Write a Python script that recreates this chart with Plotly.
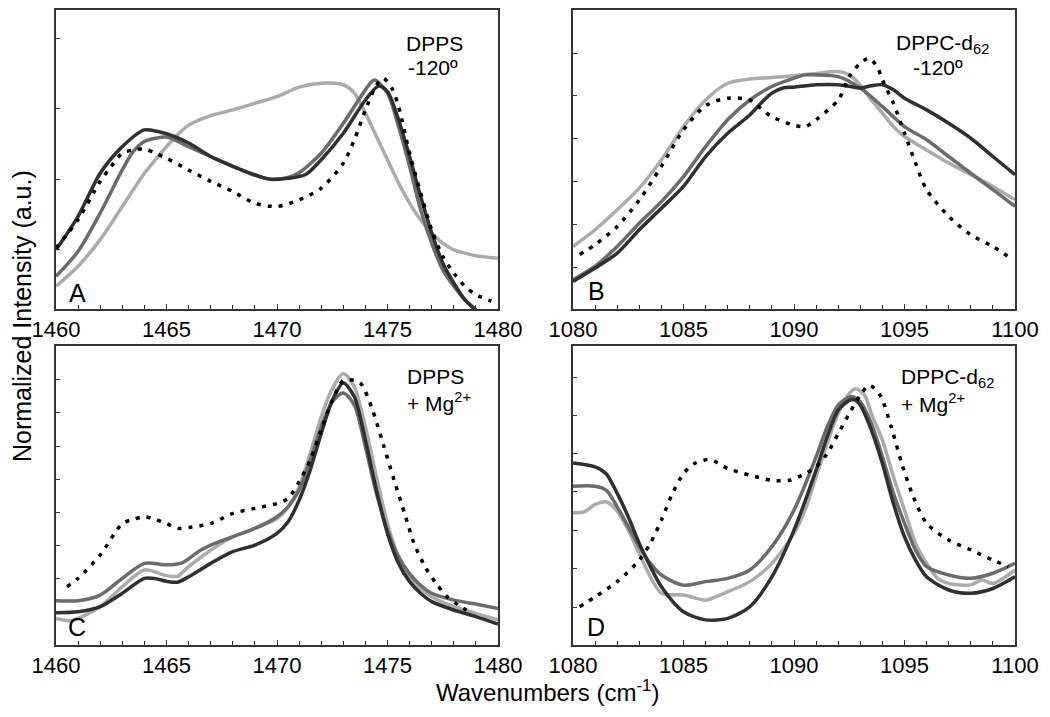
import plotly.graph_objects as go

# ---------------- Data (normalized intensity, 0 = panel bottom, 1 = panel top) ----------------
# Panel A: DPPS -120º, CH2 scissoring region
a_light_x = [1460, 1461, 1462, 1463, 1464, 1464.5, 1465, 1465.5, 1466, 1467, 1468, 1469, 1470, 1471, 1472, 1473, 1473.5, 1474, 1474.5, 1475, 1475.5, 1476, 1476.5, 1477, 1477.5, 1478, 1478.5, 1479, 1480]
a_light_y = [0.076, 0.143, 0.232, 0.343, 0.454, 0.50, 0.543, 0.583, 0.615, 0.647, 0.666, 0.688, 0.710, 0.742, 0.755, 0.750, 0.722, 0.655, 0.577, 0.499, 0.421, 0.354, 0.298, 0.254, 0.220, 0.198, 0.187, 0.178, 0.170]
a_med_x = [1460, 1461, 1462, 1463, 1463.5, 1464, 1464.5, 1465, 1466, 1467, 1468, 1469, 1469.7, 1470.5, 1471, 1472, 1473, 1474, 1474.4, 1475, 1475.5, 1476, 1476.5, 1477, 1477.5, 1478, 1478.5, 1479.1]
a_med_y = [0.109, 0.193, 0.321, 0.465, 0.527, 0.560, 0.571, 0.575, 0.543, 0.510, 0.477, 0.447, 0.434, 0.440, 0.456, 0.521, 0.621, 0.733, 0.766, 0.722, 0.610, 0.477, 0.332, 0.220, 0.131, 0.076, 0.031, -0.01]
a_dark_x = [1460, 1461, 1462, 1463, 1464, 1465, 1466, 1467, 1468, 1469, 1469.7, 1470.5, 1471.3, 1472, 1473, 1474, 1474.6, 1475, 1475.5, 1476, 1476.5, 1477, 1477.5, 1478, 1478.5, 1479.1]
a_dark_y = [0.198, 0.310, 0.454, 0.543, 0.599, 0.586, 0.555, 0.510, 0.477, 0.449, 0.434, 0.437, 0.450, 0.499, 0.588, 0.699, 0.746, 0.727, 0.633, 0.510, 0.376, 0.254, 0.154, 0.087, 0.031, -0.01]
a_dot_x = [1460, 1461, 1462, 1462.5, 1463, 1463.5, 1464, 1464.5, 1465, 1466, 1467, 1468, 1469, 1470, 1471, 1472, 1473, 1473.5, 1474, 1474.5, 1474.8, 1475.2, 1475.5, 1476, 1476.5, 1477, 1477.5, 1478, 1478.5, 1479, 1479.7]
a_dot_y = [0.204, 0.299, 0.427, 0.477, 0.521, 0.532, 0.535, 0.521, 0.504, 0.465, 0.427, 0.393, 0.354, 0.343, 0.365, 0.404, 0.488, 0.566, 0.666, 0.749, 0.772, 0.738, 0.677, 0.521, 0.388, 0.265, 0.176, 0.120, 0.076, 0.048, 0.026]

# Panel B: DPPC-d62 -120º, CD2 region
b_light_x = [1080, 1081, 1082, 1083, 1084, 1085, 1086, 1087, 1088, 1089, 1090, 1091, 1092, 1092.5, 1093, 1093.5, 1094, 1094.5, 1095, 1096, 1097, 1098, 1099, 1100]
b_light_y = [0.209, 0.265, 0.332, 0.404, 0.499, 0.610, 0.699, 0.755, 0.769, 0.774, 0.780, 0.788, 0.794, 0.783, 0.749, 0.699, 0.655, 0.610, 0.577, 0.532, 0.488, 0.449, 0.410, 0.365]
b_med_x = [1080, 1081, 1082, 1083, 1084, 1085, 1086, 1087, 1088, 1089, 1090, 1090.5, 1091, 1092, 1093, 1094, 1095, 1096, 1097, 1098, 1099, 1100]
b_med_y = [0.098, 0.143, 0.209, 0.287, 0.359, 0.443, 0.543, 0.633, 0.699, 0.744, 0.772, 0.783, 0.783, 0.777, 0.739, 0.677, 0.610, 0.566, 0.510, 0.454, 0.399, 0.343]
b_dark_x = [1080, 1081, 1082, 1083, 1084, 1085, 1086, 1087, 1088, 1088.5, 1089, 1089.5, 1090, 1091, 1092, 1092.5, 1093, 1093.5, 1094, 1094.5, 1095, 1096, 1097, 1098, 1099, 1100]
b_dark_y = [0.092, 0.137, 0.187, 0.265, 0.337, 0.410, 0.510, 0.588, 0.649, 0.688, 0.722, 0.739, 0.742, 0.750, 0.750, 0.745, 0.739, 0.747, 0.750, 0.733, 0.705, 0.666, 0.621, 0.571, 0.510, 0.449]
b_dot_x = [1080.3, 1081, 1082, 1083, 1084, 1085, 1086, 1087, 1088, 1088.5, 1089, 1090, 1090.5, 1091, 1092, 1092.5, 1093, 1093.4, 1093.8, 1094, 1094.5, 1095, 1095.5, 1096, 1097, 1098, 1099, 1099.8]
b_dot_y = [0.182, 0.215, 0.276, 0.365, 0.477, 0.599, 0.680, 0.705, 0.699, 0.671, 0.643, 0.615, 0.610, 0.633, 0.699, 0.777, 0.822, 0.839, 0.805, 0.766, 0.688, 0.588, 0.488, 0.399, 0.310, 0.248, 0.209, 0.170]

# Panel C: DPPS + Mg2+
c_light_x = [1460, 1460.7, 1461, 1462, 1463, 1464, 1465, 1465.5, 1466, 1467, 1468, 1469, 1470, 1470.5, 1471, 1471.5, 1472, 1472.5, 1473, 1473.5, 1474, 1474.5, 1475, 1475.5, 1476, 1476.5, 1477, 1478, 1479, 1480]
c_light_y = [0.089, 0.081, 0.089, 0.128, 0.195, 0.251, 0.232, 0.230, 0.262, 0.317, 0.362, 0.390, 0.423, 0.462, 0.529, 0.640, 0.763, 0.857, 0.908, 0.863, 0.729, 0.562, 0.406, 0.295, 0.228, 0.189, 0.161, 0.128, 0.106, 0.084]
c_med_x = [1460, 1461, 1462, 1463, 1464, 1465, 1465.7, 1466.5, 1467, 1468, 1469, 1470, 1470.5, 1471, 1471.5, 1472, 1472.5, 1473, 1473.5, 1474, 1474.5, 1475, 1475.5, 1476, 1476.5, 1477, 1478, 1479, 1480]
c_med_y = [0.148, 0.148, 0.167, 0.223, 0.273, 0.268, 0.275, 0.315, 0.334, 0.362, 0.390, 0.429, 0.462, 0.518, 0.618, 0.729, 0.813, 0.843, 0.802, 0.663, 0.507, 0.384, 0.295, 0.239, 0.200, 0.173, 0.150, 0.137, 0.122]
c_dark_x = [1460, 1461, 1462, 1463, 1464, 1464.5, 1465, 1465.5, 1466, 1467, 1468, 1469, 1470, 1470.5, 1471, 1471.5, 1472, 1472.5, 1473, 1473.5, 1474, 1474.5, 1475, 1475.5, 1476, 1476.5, 1477, 1478, 1479, 1480]
c_dark_y = [0.108, 0.111, 0.128, 0.173, 0.223, 0.222, 0.213, 0.210, 0.228, 0.273, 0.312, 0.334, 0.373, 0.412, 0.484, 0.585, 0.707, 0.818, 0.876, 0.830, 0.685, 0.518, 0.373, 0.273, 0.212, 0.173, 0.145, 0.117, 0.095, 0.070]
c_dot_x = [1460.5, 1461, 1462, 1463, 1463.5, 1464, 1464.5, 1465, 1465.5, 1466, 1467, 1468, 1469, 1470, 1470.5, 1471, 1471.5, 1472, 1472.5, 1473, 1473.5, 1473.8, 1474.3, 1474.8, 1475.3, 1475.8, 1476.2, 1476.7, 1477.2, 1477.7, 1478.2, 1478.7]
c_dot_y = [0.195, 0.223, 0.301, 0.406, 0.420, 0.429, 0.420, 0.406, 0.390, 0.393, 0.406, 0.440, 0.457, 0.473, 0.490, 0.546, 0.618, 0.719, 0.818, 0.885, 0.885, 0.874, 0.791, 0.673, 0.551, 0.434, 0.340, 0.262, 0.206, 0.161, 0.134, 0.111]

# Panel D: DPPC-d62 + Mg2+
d_light_x = [1080, 1080.5, 1081, 1081.5, 1082, 1082.5, 1083, 1083.5, 1084, 1085, 1086, 1086.5, 1087, 1088, 1089, 1090, 1090.5, 1091, 1091.5, 1092, 1092.5, 1092.8, 1093.2, 1093.5, 1094, 1094.5, 1095, 1095.5, 1096, 1096.5, 1097, 1097.5, 1098, 1098.5, 1099, 1100]
d_light_y = [0.442, 0.445, 0.470, 0.479, 0.448, 0.384, 0.306, 0.228, 0.173, 0.167, 0.150, 0.162, 0.178, 0.212, 0.273, 0.373, 0.451, 0.563, 0.674, 0.774, 0.841, 0.857, 0.835, 0.774, 0.685, 0.563, 0.451, 0.340, 0.273, 0.223, 0.206, 0.201, 0.201, 0.217, 0.206, 0.251]
d_med_x = [1080, 1081, 1081.5, 1082, 1082.5, 1083, 1083.5, 1084, 1085, 1086, 1087, 1088, 1089, 1090, 1091, 1091.5, 1092, 1092.5, 1092.7, 1093, 1093.5, 1094, 1094.5, 1095, 1095.5, 1096, 1097, 1098, 1099, 1100]
d_med_y = [0.531, 0.531, 0.518, 0.462, 0.396, 0.329, 0.273, 0.234, 0.200, 0.212, 0.223, 0.251, 0.329, 0.451, 0.629, 0.729, 0.802, 0.830, 0.830, 0.813, 0.741, 0.629, 0.507, 0.407, 0.317, 0.262, 0.234, 0.223, 0.240, 0.273]
d_dark_x = [1080, 1081, 1081.5, 1082, 1082.5, 1083, 1083.5, 1084, 1085, 1086, 1087, 1088, 1089, 1090, 1091, 1091.5, 1092, 1092.5, 1092.7, 1093, 1093.5, 1094, 1094.5, 1095, 1095.5, 1096, 1097, 1098, 1099, 1100]
d_dark_y = [0.609, 0.596, 0.573, 0.507, 0.429, 0.340, 0.262, 0.195, 0.111, 0.084, 0.089, 0.128, 0.228, 0.384, 0.585, 0.696, 0.785, 0.818, 0.821, 0.802, 0.719, 0.607, 0.473, 0.362, 0.284, 0.228, 0.184, 0.173, 0.189, 0.228]
d_dot_x = [1080.3, 1081, 1082, 1083, 1083.5, 1084, 1084.5, 1085, 1085.5, 1086.2, 1087, 1088, 1089, 1089.8, 1090.5, 1091, 1091.5, 1092, 1092.5, 1093, 1093.4, 1093.9, 1094.4, 1094.9, 1095.4, 1096, 1097, 1098, 1099, 1099.7]
d_dot_y = [0.128, 0.161, 0.212, 0.284, 0.340, 0.418, 0.507, 0.573, 0.607, 0.620, 0.590, 0.568, 0.551, 0.551, 0.573, 0.596, 0.640, 0.707, 0.774, 0.835, 0.869, 0.835, 0.729, 0.601, 0.496, 0.407, 0.351, 0.318, 0.284, 0.262]

# Y tick positions (unlabeled) per panel
a_yticks = [0.198, 0.432, 0.669, 0.905]
b_yticks = [0.140, 0.284, 0.427, 0.569, 0.713, 0.855]
c_yticks = [0.222, 0.332, 0.443, 0.555, 0.665, 0.777, 0.888]
d_yticks = [0.127, 0.255, 0.384, 0.512, 0.640, 0.767, 0.896]

ch2_xticks = [1460, 1465, 1470, 1475, 1480]
cd2_xticks = [1080, 1085, 1090, 1095, 1100]

# ---------------- Styling ----------------
LIGHT = "#ababab"
MED = "#6b6b6b"
DARK = "#303030"
DOT = "#000000"
LW = 3.5
FONT = "Liberation Sans, Arial, Helvetica, sans-serif"

fig = go.Figure()

panels = [
    ("x", "y", a_light_x, a_light_y, a_med_x, a_med_y, a_dark_x, a_dark_y, a_dot_x, a_dot_y),
    ("x2", "y2", b_light_x, b_light_y, b_med_x, b_med_y, b_dark_x, b_dark_y, b_dot_x, b_dot_y),
    ("x3", "y3", c_light_x, c_light_y, c_med_x, c_med_y, c_dark_x, c_dark_y, c_dot_x, c_dot_y),
    ("x4", "y4", d_light_x, d_light_y, d_med_x, d_med_y, d_dark_x, d_dark_y, d_dot_x, d_dot_y),
]

for xa, ya, lx, ly, mx, my, dx, dy, tx, ty in panels:
    for X, Y, col in ((lx, ly, LIGHT), (mx, my, MED), (dx, dy, DARK)):
        fig.add_trace(go.Scatter(x=X, y=Y, mode="lines", xaxis=xa, yaxis=ya,
                                 line=dict(color=col, width=LW, shape="spline", smoothing=0.8),
                                 showlegend=False, hoverinfo="skip"))
    fig.add_trace(go.Scatter(x=tx, y=ty, mode="lines", xaxis=xa, yaxis=ya,
                             line=dict(color=DOT, width=LW, dash="4px,7px", shape="spline", smoothing=0.8),
                             showlegend=False, hoverinfo="skip"))

# The page body has an 8px margin; the figure is sized to fit the window exactly.
OFF = 8
W, H = 1050 - 2 * OFF, 717 - 2 * OFF


def px(X):
    return (X - OFF) / W


def py(Y):
    return 1 - (Y - OFF) / H


xdomL = [px(56), px(498)]
xdomR = [px(573), px(1015)]
ydomT = [py(309), py(10)]
ydomB = [py(645), py(346)]


def xaxis(dom, rng, ticks, anchor):
    return dict(domain=dom, range=rng, anchor=anchor, tickvals=ticks, automargin=False,
                ticks="inside", ticklen=5, tickwidth=1, tickcolor="#333333",
                minor=dict(dtick=1, ticks="inside", ticklen=4, tickwidth=1, tickcolor="#333333"),
                showline=True, linecolor="#333333", linewidth=1.5, mirror=True,
                showgrid=False, zeroline=False,
                tickfont=dict(family=FONT, size=22, color="#000000"))


def yaxis(dom, ticks, anchor):
    return dict(domain=dom, range=[0, 1], anchor=anchor, tickvals=ticks, automargin=False,
                ticks="inside", ticklen=4, tickwidth=1, tickcolor="#333333",
                showticklabels=False,
                showline=True, linecolor="#333333", linewidth=1.5, mirror=True,
                showgrid=False, zeroline=False)


fig.update_layout(
    template="none",
    width=W, height=H,
    margin=dict(l=0, r=0, t=0, b=0, pad=0, autoexpand=False),
    paper_bgcolor="white", plot_bgcolor="white",
    showlegend=False,
    xaxis=xaxis(xdomL, [1460, 1480], ch2_xticks, "y"),
    yaxis=yaxis(ydomT, a_yticks, "x"),
    xaxis2=xaxis(xdomR, [1080, 1100], cd2_xticks, "y2"),
    yaxis2=yaxis(ydomT, b_yticks, "x2"),
    xaxis3=xaxis(xdomL, [1460, 1480], ch2_xticks, "y3"),
    yaxis3=yaxis(ydomB, c_yticks, "x3"),
    xaxis4=xaxis(xdomR, [1080, 1100], cd2_xticks, "y4"),
    yaxis4=yaxis(ydomB, d_yticks, "x4"),
)

anns = []


def label(text, xpx, ypx, size=21, xanchor="center", angle=0):
    anns.append(dict(text=text, x=px(xpx), y=py(ypx), xref="paper", yref="paper",
                     xanchor=xanchor, yanchor="middle", showarrow=False, textangle=angle,
                     font=dict(family=FONT, size=size, color="#000000")))


# panel text
label("DPPS", 434, 43)
label("-120º", 433, 68)
label("DPPC-d<sub>62</sub>", 942, 44)
label("-120º", 938, 68)
label("DPPS", 405, 376, xanchor="left")
label("+ Mg<sup>2+</sup>", 405, 402, xanchor="left")
label("DPPC-d<sub>62</sub>", 899, 378, xanchor="left")
label("+ Mg<sup>2+</sup>", 899, 403, xanchor="left")

# panel letters
label("A", 77, 293, size=25)
label("B", 596, 291, size=25)
label("C", 77, 627, size=25)
label("D", 596, 627, size=25)

# axis titles
label("Normalized Intensity (a.u.)", 22, 316, size=25, angle=-90)
label("Wavenumbers (cm<sup>-1</sup>)", 547, 691, size=24)

fig.update_layout(annotations=anns)

fig.write_html("out.html")
